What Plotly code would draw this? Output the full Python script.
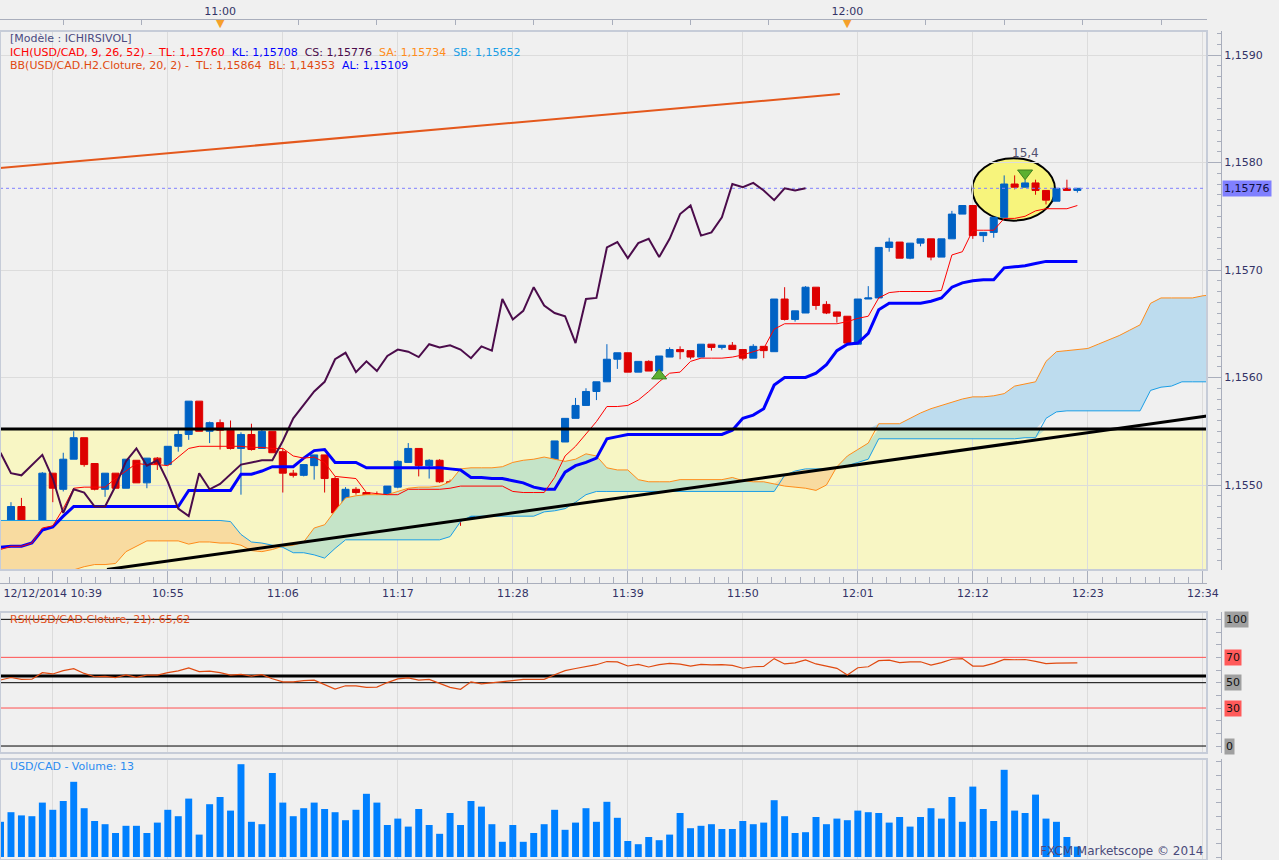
import numpy as np
import pandas as pd
import plotly.graph_objects as go

# ---------------- data (USD/CAD, 1 minute bars) ----------------
first_bar = "2014-12-12 10:39"

open_ = [1.15452, 1.15453, 1.15480, 1.15466, 1.15466, 1.15511, 1.15496, 1.15524, 1.15544, 1.15520,
         1.15496, 1.15511, 1.15497, 1.15523, 1.15502, 1.15525, 1.15519, 1.15536, 1.15547, 1.15578,
         1.15550, 1.15558, 1.15551, 1.15534, 1.15547, 1.15534, 1.15550, 1.15531, 1.15511, 1.15509,
         1.15518, 1.15528, 1.15506, 1.15474, 1.15496, 1.15493, 1.15481, 1.15480, 1.15498, 1.15521,
         1.15534, 1.15518, 1.15523, 1.15503, 1.15480, 1.15470, 1.15511, 1.15496, 1.15500, 1.15509,
         1.15518, 1.15520, 1.15522, 1.15523, 1.15540, 1.15562, 1.15574, 1.15587, 1.15596, 1.15617,
         1.15623, 1.15605, 1.15615, 1.15606, 1.15619, 1.15626, 1.15625, 1.15619, 1.15631, 1.15628,
         1.15630, 1.15626, 1.15618, 1.15629, 1.15624, 1.15673, 1.15654, 1.15660, 1.15684, 1.15668,
         1.15661, 1.15657, 1.15631, 1.15673, 1.15674, 1.15721, 1.15726, 1.15711, 1.15725, 1.15729,
         1.15712, 1.15729, 1.15752, 1.15760, 1.15732, 1.15735, 1.15749, 1.15780, 1.15777, 1.15781,
         1.15774, 1.15764, 1.15776, 1.15774]
high_ = [1.15458, 1.15484, 1.15488, 1.15467, 1.15512, 1.15511, 1.15530, 1.15550, 1.15544, 1.15520,
         1.15511, 1.15511, 1.15524, 1.15523, 1.15525, 1.15526, 1.15536, 1.15552, 1.15578, 1.15578,
         1.15559, 1.15561, 1.15560, 1.15549, 1.15557, 1.15552, 1.15550, 1.15534, 1.15514, 1.15519,
         1.15528, 1.15528, 1.15508, 1.15498, 1.15498, 1.15493, 1.15494, 1.15499, 1.15523, 1.15539,
         1.15534, 1.15524, 1.15524, 1.15505, 1.15480, 1.15511, 1.15513, 1.15501, 1.15512, 1.15519,
         1.15521, 1.15523, 1.15523, 1.15541, 1.15562, 1.15581, 1.15590, 1.15596, 1.15631, 1.15623,
         1.15623, 1.15615, 1.15616, 1.15620, 1.15628, 1.15629, 1.15625, 1.15631, 1.15631, 1.15630,
         1.15633, 1.15626, 1.15631, 1.15629, 1.15673, 1.15684, 1.15662, 1.15685, 1.15684, 1.15671,
         1.15661, 1.15657, 1.15673, 1.15685, 1.15721, 1.15730, 1.15726, 1.15725, 1.15729, 1.15729,
         1.15729, 1.15755, 1.15760, 1.15760, 1.15735, 1.15749, 1.15788, 1.15788, 1.15784, 1.15784,
         1.15774, 1.15776, 1.15784, 1.15776]
low_ = [1.15451, 1.15453, 1.15465, 1.15453, 1.15466, 1.15484, 1.15494, 1.15524, 1.15517, 1.15495,
        1.15489, 1.15497, 1.15497, 1.15502, 1.15497, 1.15514, 1.15519, 1.15531, 1.15542, 1.15550,
        1.15539, 1.15533, 1.15533, 1.15491, 1.15532, 1.15534, 1.15530, 1.15493, 1.15507, 1.15508,
        1.15505, 1.15493, 1.15463, 1.15474, 1.15491, 1.15454, 1.15480, 1.15480, 1.15497, 1.15521,
        1.15508, 1.15506, 1.15502, 1.15478, 1.15462, 1.15469, 1.15496, 1.15492, 1.15500, 1.15509,
        1.15514, 1.15520, 1.15516, 1.15523, 1.15540, 1.15562, 1.15574, 1.15579, 1.15596, 1.15608,
        1.15605, 1.15605, 1.15606, 1.15606, 1.15619, 1.15617, 1.15617, 1.15619, 1.15625, 1.15626,
        1.15626, 1.15616, 1.15618, 1.15618, 1.15624, 1.15653, 1.15652, 1.15660, 1.15663, 1.15659,
        1.15651, 1.15632, 1.15631, 1.15673, 1.15674, 1.15717, 1.15711, 1.15710, 1.15722, 1.15709,
        1.15712, 1.15729, 1.15752, 1.15729, 1.15726, 1.15730, 1.15749, 1.15775, 1.15777, 1.15770,
        1.15761, 1.15764, 1.15774, 1.15772]
close_ = [1.15457, 1.15480, 1.15466, 1.15467, 1.15511, 1.15497, 1.15524, 1.15544, 1.15519, 1.15496,
          1.15511, 1.15497, 1.15524, 1.15502, 1.15525, 1.15520, 1.15536, 1.15547, 1.15578, 1.15550,
          1.15558, 1.15551, 1.15534, 1.15547, 1.15533, 1.15550, 1.15530, 1.15511, 1.15509, 1.15519,
          1.15528, 1.15506, 1.15474, 1.15496, 1.15493, 1.15480, 1.15480, 1.15499, 1.15522, 1.15534,
          1.15518, 1.15523, 1.15503, 1.15478, 1.15471, 1.15511, 1.15496, 1.15501, 1.15510, 1.15519,
          1.15521, 1.15523, 1.15523, 1.15541, 1.15562, 1.15574, 1.15587, 1.15596, 1.15617, 1.15623,
          1.15605, 1.15615, 1.15606, 1.15620, 1.15626, 1.15624, 1.15619, 1.15631, 1.15628, 1.15630,
          1.15626, 1.15618, 1.15629, 1.15625, 1.15673, 1.15654, 1.15662, 1.15684, 1.15667, 1.15660,
          1.15657, 1.15632, 1.15673, 1.15674, 1.15721, 1.15726, 1.15711, 1.15725, 1.15729, 1.15712,
          1.15729, 1.15752, 1.15760, 1.15732, 1.15735, 1.15749, 1.15780, 1.15777, 1.15781, 1.15774,
          1.15765, 1.15776, 1.15774, 1.15776]

# Ichimoku (9, 26, 52)
tenkan = [1.15440, 1.15443, 1.15443, 1.15446, 1.15460, 1.15462, 1.15478, 1.15497, 1.15498, 1.15498,
          1.15498, 1.15506, 1.15513, 1.15520, 1.15519, 1.15519, 1.15518, 1.15526, 1.15534, 1.15536,
          1.15536, 1.15536, 1.15536, 1.15536, 1.15535, 1.15535, 1.15534, 1.15534, 1.15527, 1.15525,
          1.15526, 1.15521, 1.15508, 1.15507, 1.15506, 1.15493, 1.15492, 1.15491, 1.15491, 1.15496,
          1.15496, 1.15496, 1.15496, 1.15497, 1.15499, 1.15499, 1.15499, 1.15499, 1.15499, 1.15494,
          1.15493, 1.15493, 1.15493, 1.15507, 1.15527, 1.15536, 1.15547, 1.15559, 1.15573, 1.15573,
          1.15574, 1.15579, 1.15587, 1.15596, 1.15604, 1.15605, 1.15615, 1.15618, 1.15618, 1.15618,
          1.15619, 1.15621, 1.15624, 1.15627, 1.15645, 1.15650, 1.15650, 1.15650, 1.15650, 1.15650,
          1.15650, 1.15652, 1.15655, 1.15657, 1.15674, 1.15679, 1.15680, 1.15680, 1.15680, 1.15680,
          1.15681, 1.15714, 1.15717, 1.15737, 1.15737, 1.15737, 1.15748, 1.15748, 1.15750, 1.15755,
          1.15757, 1.15757, 1.15757, 1.15760]
kijun = [1.15442, 1.15443, 1.15443, 1.15446, 1.15458, 1.15461, 1.15471, 1.15480, 1.15480, 1.15480,
         1.15480, 1.15480, 1.15480, 1.15480, 1.15480, 1.15480, 1.15480, 1.15480, 1.15495, 1.15495,
         1.15495, 1.15495, 1.15495, 1.15510, 1.15510, 1.15513, 1.15517, 1.15517, 1.15517, 1.15525,
         1.15532, 1.15533, 1.15521, 1.15521, 1.15521, 1.15516, 1.15516, 1.15516, 1.15516, 1.15516,
         1.15516, 1.15516, 1.15516, 1.15515, 1.15514, 1.15507, 1.15507, 1.15506, 1.15506, 1.15504,
         1.15502, 1.15498, 1.15496, 1.15496, 1.15512, 1.15518, 1.15521, 1.15525, 1.15543, 1.15545,
         1.15547, 1.15547, 1.15547, 1.15547, 1.15547, 1.15547, 1.15547, 1.15547, 1.15547, 1.15547,
         1.15551, 1.15562, 1.15565, 1.15571, 1.15593, 1.15600, 1.15600, 1.15600, 1.15604, 1.15612,
         1.15625, 1.15631, 1.15632, 1.15641, 1.15663, 1.15669, 1.15669, 1.15669, 1.15669, 1.15671,
         1.15674, 1.15684, 1.15688, 1.15690, 1.15691, 1.15691, 1.15702, 1.15703, 1.15704, 1.15706,
         1.15708, 1.15708, 1.15708, 1.15708]
# the cloud runs 13 minutes further than the last bar on screen
senkou_a = [1.15413, 1.15415, 1.15417, 1.15418, 1.15419, 1.15420, 1.15420, 1.15421, 1.15424, 1.15426,
            1.15426, 1.15427, 1.15438, 1.15443, 1.15448, 1.15448, 1.15448, 1.15448, 1.15445, 1.15447,
            1.15447, 1.15446, 1.15446, 1.15444, 1.15439, 1.15438, 1.15440, 1.15443, 1.15444, 1.15447,
            1.15460, 1.15463, 1.15476, 1.15488, 1.15490, 1.15491, 1.15491, 1.15491, 1.15494, 1.15497,
            1.15498, 1.15498, 1.15499, 1.15503, 1.15515, 1.15516, 1.15516, 1.15516, 1.15517, 1.15521,
            1.15523, 1.15524, 1.15526, 1.15524, 1.15522, 1.15524, 1.15529, 1.15527, 1.15516, 1.15514,
            1.15514, 1.15505, 1.15503, 1.15503, 1.15503, 1.15505, 1.15505, 1.15505, 1.15505, 1.15505,
            1.15507, 1.15504, 1.15503, 1.15503, 1.15501, 1.15499, 1.15498, 1.15497, 1.15495, 1.15500,
            1.15517, 1.15527, 1.15533, 1.15539, 1.15557, 1.15557, 1.15557, 1.15562, 1.15567, 1.15571,
            1.15574, 1.15577, 1.15580, 1.15582, 1.15582, 1.15583, 1.15585, 1.15592, 1.15594, 1.15596,
            1.15615, 1.15624, 1.15625, 1.15626, 1.15627, 1.15631, 1.15635, 1.15639, 1.15644, 1.15649,
            1.15669, 1.15674, 1.15674, 1.15674, 1.15674, 1.15676, 1.15677]
senkou_b = [1.15467, 1.15467, 1.15467, 1.15467, 1.15467, 1.15467, 1.15467, 1.15467, 1.15467, 1.15467,
            1.15467, 1.15467, 1.15467, 1.15467, 1.15467, 1.15467, 1.15467, 1.15467, 1.15467, 1.15467,
            1.15467, 1.15467, 1.15466, 1.15454, 1.15447, 1.15446, 1.15444, 1.15442, 1.15437, 1.15437,
            1.15435, 1.15432, 1.15441, 1.15449, 1.15449, 1.15449, 1.15449, 1.15449, 1.15449, 1.15449,
            1.15449, 1.15449, 1.15449, 1.15452, 1.15466, 1.15471, 1.15471, 1.15471, 1.15471, 1.15471,
            1.15471, 1.15471, 1.15475, 1.15476, 1.15478, 1.15484, 1.15491, 1.15494, 1.15494, 1.15494,
            1.15494, 1.15494, 1.15494, 1.15494, 1.15494, 1.15494, 1.15494, 1.15494, 1.15494, 1.15494,
            1.15494, 1.15494, 1.15494, 1.15494, 1.15494, 1.15509, 1.15513, 1.15515, 1.15515, 1.15515,
            1.15516, 1.15518, 1.15521, 1.15524, 1.15543, 1.15543, 1.15543, 1.15543, 1.15543, 1.15543,
            1.15543, 1.15543, 1.15543, 1.15543, 1.15543, 1.15543, 1.15543, 1.15543, 1.15544, 1.15544,
            1.15562, 1.15568, 1.15569, 1.15569, 1.15569, 1.15569, 1.15569, 1.15569, 1.15569, 1.15569,
            1.15588, 1.15591, 1.15592, 1.15596, 1.15596, 1.15596, 1.15596]
chikou_shift = 26

rsi = [52.1, 54.1, 52.6, 52.7, 57.9, 56.9, 59.5, 61.1, 57.3, 54.7,
       55.0, 54.0, 56.2, 54.2, 56.0, 56.0, 57.9, 59.3, 61.6, 58.7,
       59.1, 57.9, 56.0, 56.6, 55.2, 56.4, 53.1, 50.7, 50.7, 51.7,
       52.0, 48.7, 45.0, 47.6, 47.5, 46.3, 46.5, 50.1, 53.0, 53.8,
       52.1, 52.6, 49.5, 46.3, 44.8, 50.7, 49.0, 49.8, 50.9, 51.8,
       52.6, 52.6, 52.6, 56.3, 59.5, 61.2, 62.8, 64.2, 66.7, 66.4,
       63.2, 64.4, 62.4, 64.2, 65.2, 64.7, 63.1, 64.4, 64.1, 64.2,
       63.6, 61.4, 62.6, 62.8, 69.0, 64.8, 65.7, 68.0, 64.8, 62.8,
       61.3, 56.0, 61.8, 62.6, 67.4, 67.8, 65.9, 66.5, 66.5, 63.9,
       65.9, 68.5, 69.0, 63.1, 63.1, 65.2, 68.4, 68.1, 68.3, 66.8,
       65.0, 65.5, 65.8, 65.62]
rsi_levels = [100, 70, 50, 30, 0]
rsi_level_colors = ["#000000", "#ff5050", "#000000", "#ff5050", "#000000"]
rsi_label_bg = ["#a0a0a0", "#ff5a5a", "#a0a0a0", "#ff5a5a", "#a0a0a0"]
rsi_user_line = 55.3

volume = [44, 56, 52, 51, 68, 59, 70, 94, 61, 45,
          41, 30, 39, 39, 30, 43, 59, 51, 73, 28,
          66, 75, 58, 116, 44, 41, 105, 68, 51, 61,
          68, 60, 56, 46, 59, 79, 68, 40, 48, 38,
          60, 40, 29, 55, 40, 70, 63, 41, 19, 40,
          19, 30, 41, 59, 34, 43, 61, 44, 69, 49,
          20, 16, 25, 21, 28, 55, 36, 39, 41, 35,
          35, 45, 41, 43, 71, 51, 30, 31, 50, 41,
          48, 46, 58, 56, 55, 43, 50, 38, 50, 61,
          48, 75, 44, 88, 60, 45, 109, 58, 55, 78,
          48, 44, 25, 13]

# drawings on the price panel
box_top = 1.155521
trend_black_t = ["2014-12-12 10:49:11", "2014-12-12 12:34:24"]
trend_black_p = [1.154214, 1.155642]
trend_orange_t = ["2014-12-12 10:38:57", "2014-12-12 11:59:17"]
trend_orange_p = [1.157949, 1.158637]
ellipse_t = ["2014-12-12 12:11:57", "2014-12-12 12:19:52"]
ellipse_p = [1.157459, 1.158039]
signal_t = ["2014-12-12 11:42:00", "2014-12-12 12:17:00"]
signal_p = [1.156017, 1.157900]
signal_dir = ["up", "down"]
signal_text_p = 1.158088
signal_text = "15,4"

x_range = ["2014-12-12 10:38:57", "2014-12-12 12:34:24"]
grid_times = ["2014-12-12 10:44", "2014-12-12 10:55", "2014-12-12 11:06", "2014-12-12 11:17",
              "2014-12-12 11:28", "2014-12-12 11:39", "2014-12-12 11:50", "2014-12-12 12:01",
              "2014-12-12 12:12", "2014-12-12 12:23", "2014-12-12 12:34"]
grid_labels = ["12/12/2014 10:39", "10:55", "11:06", "11:17", "11:28", "11:39",
               "11:50", "12:01", "12:12", "12:23", "12:34"]
top_ticks = ["2014-12-12 10:45:00", "2014-12-12 10:52:30", "2014-12-12 11:00:00", "2014-12-12 11:07:30",
             "2014-12-12 11:15:00", "2014-12-12 11:22:30", "2014-12-12 11:30:00", "2014-12-12 11:37:30",
             "2014-12-12 11:45:00", "2014-12-12 11:52:30", "2014-12-12 12:00:00", "2014-12-12 12:07:30",
             "2014-12-12 12:15:00", "2014-12-12 12:22:30", "2014-12-12 12:30:00"]
top_labels = ["", "", "11:00", "", "", "", "", "", "", "", "12:00", "", "", "", ""]
hour_marks = ["2014-12-12 11:00", "2014-12-12 12:00"]
price_ticks = [1.1550, 1.1560, 1.1570, 1.1580, 1.1590]

times = pd.date_range(first_bar, periods=len(close_), freq="min")
cloud_times = pd.date_range(first_bar, periods=len(senkou_a), freq="min")

# ---------------- geometry (pixels of the 1279 x 860 page) ----------------
W, H = 1279, 860
px = lambda x: x / W
py = lambda y: 1 - y / H
plot_right = px(1207)
axis_pos = px(1221)
price_dom = [py(570), py(31)]
rsi_dom = [py(753), py(612)]
vol_dom = [0, py(759)]
price_range = [1.1542093, 1.1592233]
rsi_range = [-5.5, 105.8]
vol_range = [-3.75, 122.5]

FONT = "DejaVu Sans"
AXIS_COL = "#a9aebc"
GRID_COL = "#dcdcdc"
TXT_COL = "#333366"

fig = go.Figure()


def line_trace(x, y, color, width, axes=("x", "y"), dash=None):
    fig.add_trace(go.Scatter(x=x, y=y, mode="lines", line=dict(color=color, width=width, dash=dash),
                             xaxis=axes[0], yaxis=axes[1], hoverinfo="skip", showlegend=False))


# ---- Ichimoku cloud (green inside the yellow box, blue above it, orange when SB > SA)
sa = np.array(senkou_a)
sb = np.array(senkou_b)
top = np.maximum(sa, sb)


def band(lo, hi, color):
    fig.add_trace(go.Scatter(x=cloud_times, y=lo, mode="lines", line=dict(width=0),
                             hoverinfo="skip", showlegend=False))
    fig.add_trace(go.Scatter(x=cloud_times, y=hi, mode="lines", line=dict(width=0),
                             fill="tonexty", fillcolor=color, hoverinfo="skip", showlegend=False))


band(np.minimum(sb, box_top), np.minimum(top, box_top), "#c5e4c8")
band(np.maximum(sb, box_top), np.maximum(top, box_top), "#bddcee")
band(sa, top, "#f8dba0")

line_trace(cloud_times, senkou_a, "#ff8c1a", 1)
line_trace(cloud_times, senkou_b, "#1a9ee6", 1)

# current price line
line_trace(x_range, [close_[-1], close_[-1]], "#8080ff", 1, dash="3px,3px")

# ---- candles
fig.add_trace(go.Candlestick(
    x=times, open=open_, high=high_, low=low_, close=close_,
    increasing=dict(line=dict(color="#0062c4", width=1), fillcolor="#0062c4"),
    decreasing=dict(line=dict(color="#dd0000", width=1), fillcolor="#dd0000"),
    whiskerwidth=0, showlegend=False, hoverinfo="skip"))

# ---- Kijun, Tenkan, Chikou
line_trace(times, kijun, "#0000ff", 3)
line_trace(times, tenkan, "#ff0000", 1)
line_trace(times[:-chikou_shift], close_[chikou_shift:], "#4b0c4b", 2)

# ---- RSI: level lines, user line, then the oscillator
for lvl, col in zip(rsi_levels, rsi_level_colors):
    line_trace(x_range, [lvl, lvl], col, 1, axes=("x2", "y2"))
line_trace(x_range, [rsi_user_line, rsi_user_line], "#000000", 3, axes=("x2", "y2"))
line_trace(times, rsi, "#e04a10", 1.2, axes=("x2", "y2"))

# ---- volume
fig.add_trace(go.Bar(x=times, y=volume, width=40000, marker=dict(color="#0080ff", line=dict(width=0)),
                     xaxis="x3", yaxis="y3", hoverinfo="skip", showlegend=False))

# ---- signal arrows (up at 11:42, down at 12:17)
fig.add_trace(go.Scatter(
    x=signal_t, y=signal_p, mode="markers",
    marker=dict(symbol=["triangle-up" if d == "up" else "triangle-down" for d in signal_dir],
                size=13, color="#5cb030", line=dict(color="#3d7f1e", width=1)),
    hoverinfo="skip", showlegend=False))

# invisible traces so the overlaying time axes get drawn
fig.add_trace(go.Scatter(x=[times[0]], y=[None], xaxis="x4", yaxis="y", showlegend=False, hoverinfo="skip"))
fig.add_trace(go.Scatter(x=[times[0]], y=[None], xaxis="x5", yaxis="y", showlegend=False, hoverinfo="skip"))

# ---------------- shapes ----------------
shapes = [
    dict(type="rect", xref="x", yref="y", x0=x_range[0], x1=x_range[1], y0=price_range[0], y1=box_top,
         fillcolor="#f8f6c4", line=dict(width=0), layer="below"),
    dict(type="circle", xref="x", yref="y", x0=ellipse_t[0], x1=ellipse_t[1], y0=ellipse_p[0], y1=ellipse_p[1],
         fillcolor="#f7f47c", line=dict(color="#000000", width=2), layer="below"),
    dict(type="line", xref="x", yref="y", x0=x_range[0], x1=x_range[1], y0=box_top, y1=box_top,
         line=dict(color="#000000", width=3), layer="above"),
    dict(type="line", xref="x", yref="y", x0=trend_black_t[0], x1=trend_black_t[1],
         y0=trend_black_p[0], y1=trend_black_p[1], line=dict(color="#000000", width=3), layer="above"),
    dict(type="line", xref="x", yref="y", x0=trend_orange_t[0], x1=trend_orange_t[1],
         y0=trend_orange_p[0], y1=trend_orange_p[1], line=dict(color="#e4581c", width=2), layer="above"),
]
for dom in (price_dom, rsi_dom, vol_dom):
    shapes.append(dict(type="rect", xref="paper", yref="paper", x0=0, x1=plot_right, y0=dom[0], y1=dom[1],
                       line=dict(color="#c6ccd8", width=2), fillcolor="rgba(0,0,0,0)", layer="above"))

# ---------------- annotations ----------------
sp = "\u00a0"
ann = [
    dict(x=px(8), y=py(39), text="[Modèle : ICHIRSIVOL]", font=dict(color="#4a4a80")),
    dict(x=px(8), y=py(52),
         text=(f"<span style='color:#ff0000'>ICH(USD/CAD, 9, 26, 52) -{sp}{sp}TL: 1,15760</span>{sp}{sp}"
               f"<span style='color:#0000ff'>KL: 1,15708</span>{sp}{sp}"
               f"<span style='color:#4b0c4b'>CS: 1,15776</span>{sp}{sp}"
               f"<span style='color:#ff8c1a'>SA: 1,15734</span>{sp}{sp}"
               f"<span style='color:#1a9ee6'>SB: 1,15652</span>")),
    dict(x=px(8), y=py(65),
         text=(f"<span style='color:#e04a10'>BB(USD/CAD.H2.Cloture, 20, 2) -{sp}{sp}TL: 1,15864{sp}{sp}"
               f"BL: 1,14353</span>{sp}{sp}<span style='color:#0000ff'>AL: 1,15109</span>")),
    dict(x=px(8), y=py(619), text="RSI(USD/CAD.Cloture, 21): 65,62", font=dict(color="#e05020")),
    dict(x=px(8), y=py(766), text="USD/CAD - Volume: 13", font=dict(color="#2b8cf0")),
    dict(x=px(1205), y=py(851), text="FXCM Marketscope © 2014", xanchor="right",
         font=dict(color="#4a4a7a", size=12)),
]
for a in ann:
    a.update(xref="paper", yref="paper", showarrow=False, yanchor="middle", xanchor=a.get("xanchor", "left"))
    a.setdefault("font", {})
    a["font"] = dict(family=FONT, size=a["font"].get("size", 11), color=a["font"].get("color", TXT_COL))

ann.append(dict(xref="paper", yref="y", x=px(1222), y=close_[-1], text="1,15776", showarrow=False,
                xanchor="left", yanchor="middle", bgcolor="#8080ff", borderpad=1,
                font=dict(family=FONT, size=11, color="#101040")))
for lvl, bg in zip(rsi_levels, rsi_label_bg):
    ann.append(dict(xref="paper", yref="y2", x=px(1224), y=lvl, text=str(lvl), showarrow=False,
                    xanchor="left", yanchor="middle", bgcolor=bg, borderpad=1,
                    font=dict(family=FONT, size=11, color="#111111")))
for t in hour_marks:
    ann.append(dict(xref="x", yref="paper", x=t, y=py(23), text="▼", showarrow=False,
                    xanchor="center", yanchor="middle", font=dict(family=FONT, size=11, color="#f5a02a")))
ann.append(dict(xref="x", yref="y", x=signal_t[1], y=signal_text_p, text=signal_text, showarrow=False,
                xanchor="center", yanchor="middle", font=dict(family=FONT, size=12, color="#505070")))

# ---------------- layout ----------------
xcommon = dict(type="date", range=x_range, domain=[0, plot_right], tickmode="array", tickvals=grid_times,
               showticklabels=False, ticks="", showgrid=True, gridcolor=GRID_COL, gridwidth=1,
               zeroline=False, showline=False, fixedrange=True, automargin=False)
ycommon = dict(anchor="free", position=axis_pos, side="right", ticks="inside", showline=True,
               linecolor=AXIS_COL, tickcolor=AXIS_COL, zeroline=False, fixedrange=True, automargin=False,
               tickfont=dict(family=FONT, size=11, color=TXT_COL))

vol_ticks = list(range(0, 120, 17))

fig.update_layout(
    width=W, height=H, autosize=False, margin=dict(l=0, r=0, t=0, b=0, pad=0, autoexpand=False),
    paper_bgcolor="#f0f0f0", plot_bgcolor="#f0f0f0",
    separators=", ", hovermode=False, showlegend=False,
    font=dict(family=FONT, size=11, color=TXT_COL),
    boxgap=0.18, boxgroupgap=0.18,
    xaxis=dict(xcommon, anchor="y", rangeslider=dict(visible=False)),
    xaxis2=dict(xcommon, anchor="y2"),
    xaxis3=dict(xcommon, anchor="y3"),
    xaxis4=dict(type="date", range=x_range, overlaying="x", anchor="free", position=py(583), side="bottom",
                tickmode="array", tickvals=grid_times, ticktext=grid_labels, ticks="inside", ticklen=13,
                tickcolor=AXIS_COL, showline=True, linecolor=AXIS_COL, showgrid=False, zeroline=False,
                tickfont=dict(family=FONT, size=11, color=TXT_COL), fixedrange=True, automargin=False,
                minor=dict(tick0=grid_times[0], dtick=82500, ticks="inside", ticklen=6,
                           tickcolor=AXIS_COL, showgrid=False)),
    xaxis5=dict(type="date", range=x_range, overlaying="x", anchor="free", position=py(19), side="top",
                tickmode="array", tickvals=top_ticks, ticktext=top_labels, ticks="inside", ticklen=5,
                tickcolor=AXIS_COL, showline=True, linecolor=AXIS_COL, showgrid=False, zeroline=False,
                tickfont=dict(family=FONT, size=11, color=TXT_COL), fixedrange=True, automargin=False),
    yaxis=dict(ycommon, domain=price_dom, range=price_range, tickmode="array", tickvals=price_ticks,
               tickformat=".4f", ticklen=14, showgrid=True, gridcolor=GRID_COL,
               minor=dict(tick0=1.155, dtick=0.0001, ticks="inside", ticklen=4, tickcolor=AXIS_COL,
                          showgrid=False)),
    yaxis2=dict(ycommon, domain=rsi_dom, range=rsi_range, tick0=0, dtick=10,
                ticklen=5, showticklabels=False, showgrid=False),
    yaxis3=dict(ycommon, domain=vol_dom, range=vol_range, tickmode="array", tickvals=vol_ticks,
                ticktext=["0"] + [""] * (len(vol_ticks) - 1), ticklen=5, showgrid=False),
    shapes=shapes,
    annotations=ann,
)

# the page body has a default margin; drop it so the figure sits at the window's corner
fix_page = """
document.documentElement.style.overflow = 'hidden';
document.body.style.overflow = 'hidden';
document.body.style.margin = '0';
"""
fig.write_html("out.html", config={"displayModeBar": False, "responsive": False}, post_script=fix_page)
